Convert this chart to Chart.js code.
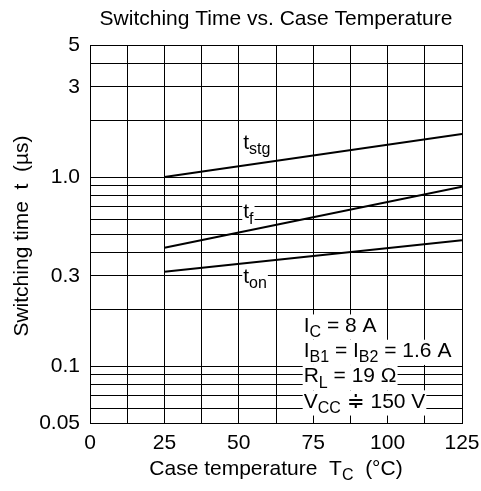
<!DOCTYPE html>
<html>
<head>
<meta charset="utf-8">
<script src="https://cdn.jsdelivr.net/npm/chart.js@4.4.0/dist/chart.umd.min.js"></script>
<style>
    html, body { margin: 0; padding: 0; background: #fff; }
</style>
</head>
<body>
<canvas id="chart" width="481" height="491"></canvas>
<script>
// Data
const caseTemps = [25, 125];
const tStg = [1.0, 1.69];
const tF = [0.423, 0.89];
const tOn = [0.316, 0.463];

const yGridValues = [0.05, 0.06, 0.07, 0.08, 0.09, 0.1, 0.2, 0.3, 0.4, 0.5, 0.6, 0.7, 0.8, 0.9, 1, 2, 3, 4, 5];
const yTickLabels = { 0.05: '0.05', 0.1: '0.1', 0.3: '0.3', 1: '1.0', 3: '3', 5: '5' };
const xTickLabels = [0, 25, 50, 75, 100, 125];

const FONT = '"Liberation Sans", Arial, sans-serif';
const SIZE = 21;

// rich text: [text, isSubscript]
function richWidth(ctx, parts, size) {
    let w = 0;
    parts.forEach(([t, sub]) => {
        ctx.font = (sub ? Math.round(size * 0.78) : size) + 'px ' + FONT;
        w += ctx.measureText(t).width;
    });
    return w;
}

function drawRich(ctx, parts, x, y, size, bg) {
    const w = richWidth(ctx, parts, size);
    if (bg) {
        ctx.fillStyle = '#fff';
        ctx.fillRect(x - 1, y - size * 0.55, w + 2, size * 1.2);
    }
    ctx.fillStyle = '#000';
    ctx.textBaseline = 'middle';
    ctx.textAlign = 'left';
    let cx = x;
    parts.forEach(([t, sub]) => {
        ctx.font = (sub ? Math.round(size * 0.78) : size) + 'px ' + FONT;
        ctx.fillText(t, cx, sub ? y + size * 0.32 : y);
        cx += ctx.measureText(t).width;
    });
    return w;
}

const curveLabels = [
    { x: 51.5, y: 1.51, parts: [['t', false], ['stg', true]] },
    { x: 51.5, y: 0.65, parts: [['t', false], ['f', true]] },
    { x: 51.5, y: 0.297, parts: [['t', false], ['on', true]] }
];

const conditions = [
    [['I', false], ['C', true], [' = 8 A', false]],
    [['I', false], ['B1', true], [' = I', false], ['B2', true], [' = 1.6 A', false]],
    [['R', false], ['L', true], [' = 19 \u03A9', false]],
    [['V', false], ['CC', true], [' \u2251 150 V', false]]
];

const textPlugin = {
    id: 'textPlugin',
    beforeDatasetsDraw(chart) {
        const ctx = chart.ctx;
        const xs = chart.scales.x, ys = chart.scales.y;
        ctx.save();
        curveLabels.forEach(l => {
            drawRich(ctx, l.parts, xs.getPixelForValue(l.x), ys.getPixelForValue(l.y), SIZE, true);
        });
        const left = xs.getPixelForValue(71.8);
        conditions.forEach((parts, i) => {
            drawRich(ctx, parts, left, 326 + i * 25.3, SIZE, true);
        });
        ctx.restore();
    },
    afterDraw(chart) {
        const ctx = chart.ctx;
        const area = chart.chartArea;
        const cx = (area.left + area.right) / 2;
        const cy = (area.top + area.bottom) / 2;
        ctx.save();
        // title
        ctx.font = SIZE + 'px ' + FONT;
        ctx.fillStyle = '#000';
        ctx.textAlign = 'center';
        ctx.textBaseline = 'middle';
        ctx.fillText('Switching Time vs. Case Temperature', cx, 19);
        // x axis title
        const xParts = [['Case temperature  T', false], ['C', true], ['  (\u00B0C)', false]];
        const xw = richWidth(ctx, xParts, SIZE);
        drawRich(ctx, xParts, cx - xw / 2, 469, SIZE, false);
        // y axis title
        ctx.translate(22, cy + 2);
        ctx.rotate(-Math.PI / 2);
        ctx.font = SIZE + 'px ' + FONT;
        ctx.textAlign = 'center';
        ctx.fillText('Switching time  t  (\u00B5s)', 0, 0);
        ctx.restore();
    }
};

function series(values) {
    return caseTemps.map((t, i) => ({ x: t, y: values[i] }));
}

const lineStyle = {
    borderColor: '#000',
    borderWidth: 2,
    pointRadius: 0,
    fill: false,
    tension: 0
};

new Chart(document.getElementById('chart'), {
    type: 'line',
    data: {
        datasets: [
            Object.assign({ label: 'tstg', data: series(tStg) }, lineStyle),
            Object.assign({ label: 'tf', data: series(tF) }, lineStyle),
            Object.assign({ label: 'ton', data: series(tOn) }, lineStyle)
        ]
    },
    options: {
        responsive: false,
        animation: false,
        layout: { padding: { top: 45, right: 0, left: 0, bottom: 0 } },
        plugins: {
            legend: { display: false },
            tooltip: { enabled: false },
            title: { display: false }
        },
        scales: {
            x: {
                type: 'linear',
                min: 0,
                max: 125,
                afterFit: s => { s.height = 68; s.paddingRight = 19; },
                afterBuildTicks: s => {
                    const t = [];
                    for (let v = 0; v <= 125; v += 12.5) t.push({ value: v });
                    s.ticks = t;
                },
                ticks: {
                    autoSkip: false,
                    maxRotation: 0,
                    padding: 8,
                    color: '#000',
                    font: { family: FONT, size: SIZE },
                    callback: v => xTickLabels.includes(v) ? String(v) : ''
                },
                grid: { color: '#000', lineWidth: 1, drawTicks: false },
                border: { color: '#000', width: 1 }
            },
            y: {
                type: 'logarithmic',
                min: 0.05,
                max: 5,
                afterFit: s => { s.width = 90; s.paddingTop = 0; s.paddingBottom = 0; },
                afterBuildTicks: s => {
                    s.ticks = yGridValues.map(v => ({ value: v }));
                },
                ticks: {
                    autoSkip: false,
                    padding: 10,
                    color: '#000',
                    font: { family: FONT, size: SIZE },
                    callback: v => yTickLabels[v] || ''
                },
                grid: { color: '#000', lineWidth: 1, drawTicks: false },
                border: { color: '#000', width: 1 }
            }
        }
    },
    plugins: [textPlugin]
});
</script>
</body>
</html>
